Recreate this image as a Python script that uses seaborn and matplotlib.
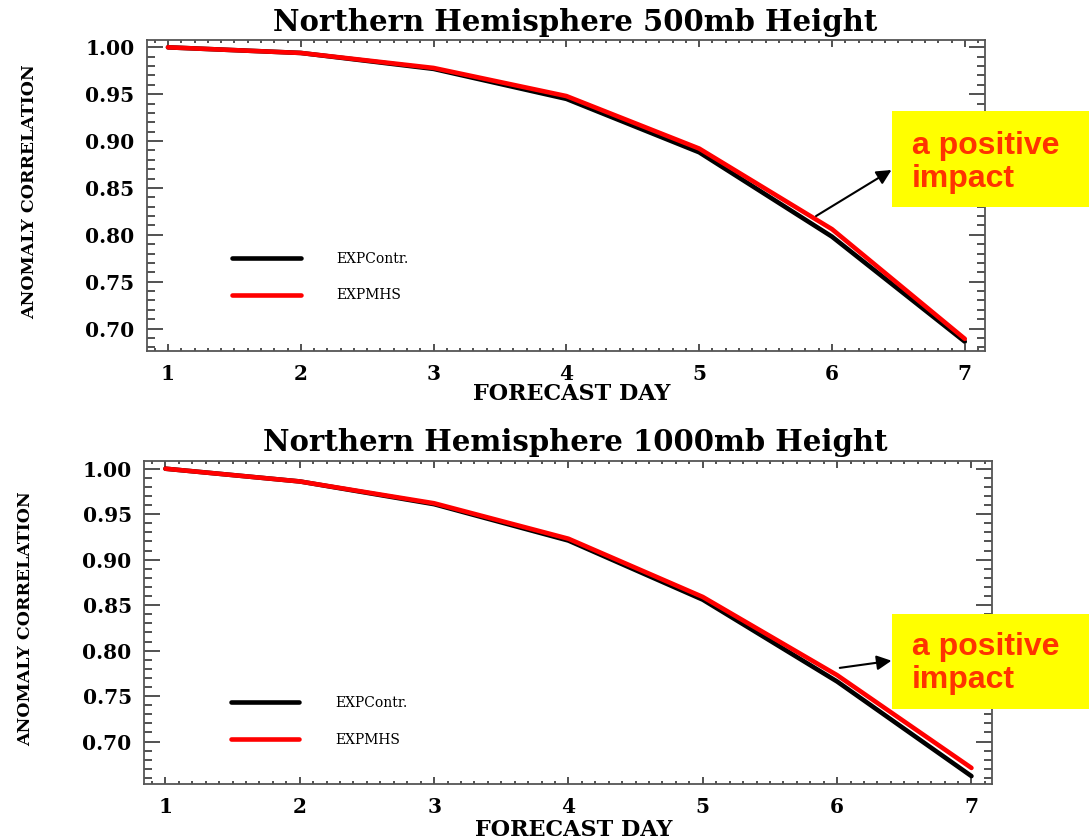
import matplotlib
matplotlib.use("Agg")
import matplotlib.pyplot as plt
import seaborn as sns
import pandas as pd
from matplotlib.patches import Rectangle
from matplotlib.ticker import MultipleLocator

# Anomaly correlation by forecast day
days = [1, 2, 3, 4, 5, 6, 7]
h500_contr = [1.000, 0.994, 0.977, 0.945, 0.888, 0.798, 0.686]
h500_mhs = [1.000, 0.994, 0.978, 0.948, 0.892, 0.806, 0.689]
h1000_contr = [1.000, 0.986, 0.961, 0.921, 0.856, 0.766, 0.662]
h1000_mhs = [1.000, 0.986, 0.962, 0.923, 0.859, 0.773, 0.671]

series_names = ["EXPContr.", "EXPMHS"]
panel_titles = ["Northern Hemisphere 500mb Height", "Northern Hemisphere 1000mb Height"]
y_ticks = [0.70, 0.75, 0.80, 0.85, 0.90, 0.95, 1.00]
note_text = "a positive\nimpact"

sns.set_theme(style="ticks")
plt.rcParams["font.family"] = ["DejaVu Serif", "DejaVu Sans"]
plt.rcParams["text.color"] = "black"
plt.rcParams["axes.labelcolor"] = "black"

W, H = 1089, 839
fig = plt.figure(figsize=(W / 100, H / 100), dpi=100)


def frac(x0, y0, x1, y1):
    # pixel box (top-left origin) -> figure fraction rect
    return [x0 / W, 1 - y1 / H, (x1 - x0) / W, (y1 - y0) / H]


panels = [
    dict(rect=frac(147, 40.3, 984.7, 351), ylim=(0.676, 1.0075),
         contr=h500_contr, mhs=h500_mhs, title_y=22.5,
         leg_y=0.318, arrow_from=(5.88, 0.820), arrow_to=(891.5, 170),
         box_y=(111, 206.7), text_y=162.5),
    dict(rect=frac(144.2, 460.7, 991.6, 784.3), ylim=(0.653, 1.0088),
         contr=h1000_contr, mhs=h1000_mhs, title_y=442.5,
         leg_y=0.272, arrow_from=(6.02, 0.781), arrow_to=(891.5, 660.7),
         box_y=(614, 709.3), text_y=663.75),
]

for i, p in enumerate(panels):
    ax = fig.add_axes(p["rect"])
    df = pd.DataFrame({
        "day": days * 2,
        "ac": p["contr"] + p["mhs"],
        "run": [series_names[0]] * len(days) + [series_names[1]] * len(days),
    })
    sns.lineplot(data=df, x="day", y="ac", hue="run", hue_order=series_names,
                 palette={"EXPContr.": "black", "EXPMHS": "#ff0000"},
                 linewidth=3.3, ax=ax)

    ax.set_xlim(0.842, 7.15)
    ax.set_ylim(*p["ylim"])
    ax.set_xticks(days)
    ax.set_yticks(y_ticks)
    ax.set_yticklabels([f"{v:.2f}" for v in y_ticks])
    ax.xaxis.set_minor_locator(MultipleLocator(0.1))
    ax.yaxis.set_minor_locator(MultipleLocator(0.01))
    ax.tick_params(which="both", direction="in", top=True, right=True,
                   colors="#333333", width=1.2)
    ax.tick_params(axis="y", which="major", length=11.5, pad=9)
    ax.tick_params(axis="y", which="minor", length=6)
    ax.tick_params(axis="x", which="major", length=5, pad=9)
    ax.tick_params(axis="x", which="minor", length=2.5)
    for lab in ax.get_xticklabels() + ax.get_yticklabels():
        lab.set_fontweight("bold")
        lab.set_fontsize(14.5)
        lab.set_color("black")
    for s in ax.spines.values():
        s.set_color("#555555")
        s.set_linewidth(1.3)

    ax.set_xlabel("FORECAST DAY", fontsize=16, fontweight="bold", va="center")
    ax.xaxis.set_label_coords(0.507, -0.14)
    ax.set_ylabel("ANOMALY CORRELATION", fontsize=12.5, fontweight="bold",
                  va="center")
    ax.yaxis.set_label_coords(-0.14, 0.513)

    handles, labels = ax.get_legend_handles_labels()
    ax.legend(handles, labels, loc="upper left", bbox_to_anchor=(0.102, p["leg_y"]),
              frameon=False, fontsize=10, handlelength=4.9, handletextpad=2.6,
              labelspacing=1.6, borderpad=0, borderaxespad=0)

    fig.text(575 / W, 1 - p["title_y"] / H, panel_titles[i], ha="center",
             va="center", fontsize=21, fontweight="bold")

    # yellow call-out box with arrow
    by0, by1 = p["box_y"]
    fig.add_artist(Rectangle((891.5 / W, 1 - by1 / H), (W - 891.5) / W,
                             (by1 - by0) / H, transform=fig.transFigure,
                             facecolor="#ffff00", edgecolor="none", zorder=5))
    fig.text(911.7 / W, 1 - p["text_y"] / H, note_text, ha="left", va="center",
             fontsize=23, fontweight="bold", color="#ff3300",
             family=["Liberation Sans", "DejaVu Sans"], linespacing=1.12,
             zorder=6)
    ax_x, ax_y = p["arrow_to"]
    ax.annotate("", xy=(ax_x / W, 1 - ax_y / H), xycoords="figure fraction",
                xytext=p["arrow_from"], textcoords="data",
                arrowprops=dict(arrowstyle="-|>", color="black", lw=1.5,
                                mutation_scale=22, shrinkA=0, shrinkB=0),
                annotation_clip=False)

fig.savefig("out.png", dpi=100)
